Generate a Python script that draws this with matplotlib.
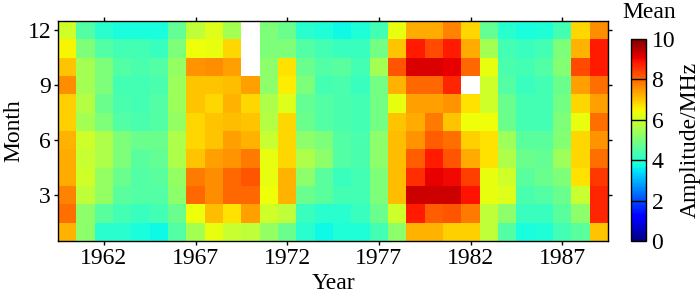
import numpy as np
import matplotlib
matplotlib.use("Agg")
import matplotlib.pyplot as plt
from matplotlib.colors import Normalize

plt.rcParams['font.family'] = ['Liberation Serif', 'DejaVu Serif']

years = list(range(1960, 1990))
months = list(range(1, 13))
xtick_years = [1962, 1967, 1972, 1977, 1982, 1987]
ytick_months = [3, 6, 9, 12]
cbar_ticks = [0, 2, 4, 6, 8, 10]
nan = np.nan

# values per year, months 12 -> 1 (top to bottom)
y1960 = [6.0, 6.5, 7.0, 7.6, 6.9, 6.9, 7.2, 7.3, 7.3, 7.7, 7.9, 7.2]
y1961 = [4.5, 5.0, 5.5, 5.5, 5.7, 5.5, 6.0, 5.9, 6.0, 5.8, 5.2, 5.2]
y1962 = [4.0, 4.5, 5.0, 5.0, 4.8, 5.0, 5.6, 5.6, 5.3, 5.3, 4.6, 4.0]
y1963 = [3.8, 4.3, 4.5, 4.3, 4.4, 4.5, 5.0, 5.0, 4.8, 4.6, 4.3, 4.0]
y1964 = [3.8, 4.3, 4.4, 4.3, 4.3, 4.4, 4.8, 4.6, 4.5, 4.5, 4.2, 3.8]
y1965 = [3.8, 4.2, 4.5, 4.4, 4.5, 4.5, 4.8, 4.7, 4.6, 4.5, 4.3, 3.7]
y1966 = [4.7, 5.0, 5.3, 5.4, 5.4, 5.3, 5.6, 5.6, 5.3, 5.2, 4.8, 4.5]
y1967 = [5.8, 6.4, 7.5, 7.0, 7.0, 6.8, 6.8, 7.0, 7.8, 8.0, 6.4, 5.5]
y1968 = [6.2, 6.3, 7.6, 7.0, 6.8, 7.0, 7.0, 7.4, 7.6, 7.6, 7.1, 6.3]
y1969 = [5.5, 6.8, 7.4, 7.1, 7.2, 7.1, 7.4, 7.5, 8.0, 8.0, 6.7, 5.9]
y1970 = [nan, nan, nan, 7.4, 6.8, 7.0, 7.2, 7.8, 8.2, 8.0, 7.4, 5.8]
y1971 = [5.0, 5.0, 5.2, 5.2, 5.6, 5.7, 5.9, 6.3, 6.3, 6.4, 6.0, 5.3]
y1972 = [4.8, 5.0, 6.7, 6.6, 6.2, 6.8, 6.8, 6.8, 7.2, 7.2, 5.8, 4.8]
y1973 = [4.0, 4.5, 4.8, 5.0, 4.7, 4.8, 5.2, 5.6, 5.2, 4.8, 4.2, 4.0]
y1974 = [3.9, 4.3, 4.5, 4.3, 4.5, 4.5, 5.0, 5.2, 4.6, 4.6, 4.0, 3.7]
y1975 = [3.7, 4.2, 4.6, 4.4, 4.4, 4.4, 4.5, 4.5, 4.2, 4.3, 4.0, 3.9]
y1976 = [3.9, 4.2, 4.3, 4.2, 4.3, 4.3, 4.4, 4.4, 4.3, 4.3, 4.2, 3.9]
y1977 = [4.3, 4.9, 5.5, 4.9, 4.9, 4.9, 5.2, 5.2, 5.0, 5.0, 4.8, 4.3]
y1978 = [6.3, 7.0, 8.2, 7.2, 6.3, 7.0, 7.1, 7.1, 7.1, 7.1, 6.0, 5.2]
y1979 = [7.3, 8.8, 9.2, 8.0, 7.4, 7.3, 7.5, 8.1, 8.6, 9.3, 8.8, 7.2]
y1980 = [7.3, 8.3, 9.2, 8.0, 7.4, 7.8, 8.1, 8.8, 9.1, 9.3, 8.1, 7.2]
y1981 = [7.7, 8.8, 9.1, 8.7, 7.5, 7.0, 7.9, 8.2, 9.0, 9.3, 8.2, 6.9]
y1982 = [6.8, 7.3, 8.0, nan, 6.7, 6.4, 6.9, 7.3, 8.4, 8.9, 7.8, 6.9]
y1983 = [4.7, 5.5, 6.3, 6.0, 6.0, 6.4, 6.7, 6.7, 6.3, 6.3, 5.8, 5.8]
y1984 = [4.0, 4.3, 4.4, 4.5, 4.8, 4.8, 5.4, 5.6, 6.0, 6.2, 5.2, 4.5]
y1985 = [3.8, 4.2, 4.3, 4.2, 4.3, 4.3, 4.6, 4.8, 4.6, 4.4, 4.2, 3.8]
y1986 = [3.9, 4.3, 4.5, 4.3, 4.3, 4.3, 4.6, 4.7, 4.8, 4.5, 4.2, 3.9]
y1987 = [4.3, 5.0, 5.1, 4.8, 4.9, 5.0, 5.1, 5.4, 5.0, 4.8, 4.6, 4.3]
y1988 = [6.8, 7.2, 8.3, 7.4, 6.8, 6.3, 6.8, 6.8, 6.7, 5.9, 5.2, 4.6]
y1989 = [7.6, 8.8, 8.8, 7.9, 7.4, 7.9, 7.5, 7.9, 8.5, 8.7, 8.7, 7.0]

cols = [y1960, y1961, y1962, y1963, y1964, y1965, y1966, y1967, y1968, y1969,
        y1970, y1971, y1972, y1973, y1974, y1975, y1976, y1977, y1978, y1979,
        y1980, y1981, y1982, y1983, y1984, y1985, y1986, y1987, y1988, y1989]

# build grid (rows = months 1..12)
Z = np.array(cols, dtype=float).T[::-1, :]
Zm = np.ma.masked_invalid(Z)

FS = 17
fig = plt.figure(figsize=(7.0, 3.03), dpi=100)
W, H = 700, 303
ax = fig.add_axes([58 / W, 1 - 241 / H, (608 - 58) / W, (241 - 21) / H])

xe = np.arange(len(years) + 1) + years[0] - 0.5
ye = np.arange(len(months) + 1) + 0.5
norm = Normalize(vmin=0, vmax=10)
mesh = ax.pcolormesh(xe, ye, Zm, cmap='jet', norm=norm, shading='flat')
ax.set_xlim(xe[0], xe[-1])
ax.set_ylim(ye[0], ye[-1])
ax.set_xticks(xtick_years)
ax.set_yticks(ytick_months)
ax.tick_params(axis='both', direction='out', length=3, width=1, labelsize=FS,
               top=True, right=True, labeltop=False, labelright=False, pad=2)
for s in ax.spines.values():
    s.set_linewidth(1.0)
ax.set_xlabel('Year', fontsize=FS, labelpad=3)
ax.set_ylabel('Month', fontsize=FS, labelpad=2)

cax = fig.add_axes([631 / W, 1 - 241 / H, (646 - 631) / W, (241 - 39) / H])
cb = fig.colorbar(mesh, cax=cax, ticks=cbar_ticks)
cb.outline.set_linewidth(1.0)
cax.tick_params(direction='in', length=0, labelsize=FS, pad=4)
for t in cbar_ticks[1:-1]:
    cax.axhline(t, color='black', linewidth=1.0)
cb.set_label('Amplitude/MHz', fontsize=FS, labelpad=3)
fig.text(649 / W, 1 - 13 / H, 'Mean', fontsize=FS, ha='center', va='center')

fig.savefig('out.png', dpi=100)
